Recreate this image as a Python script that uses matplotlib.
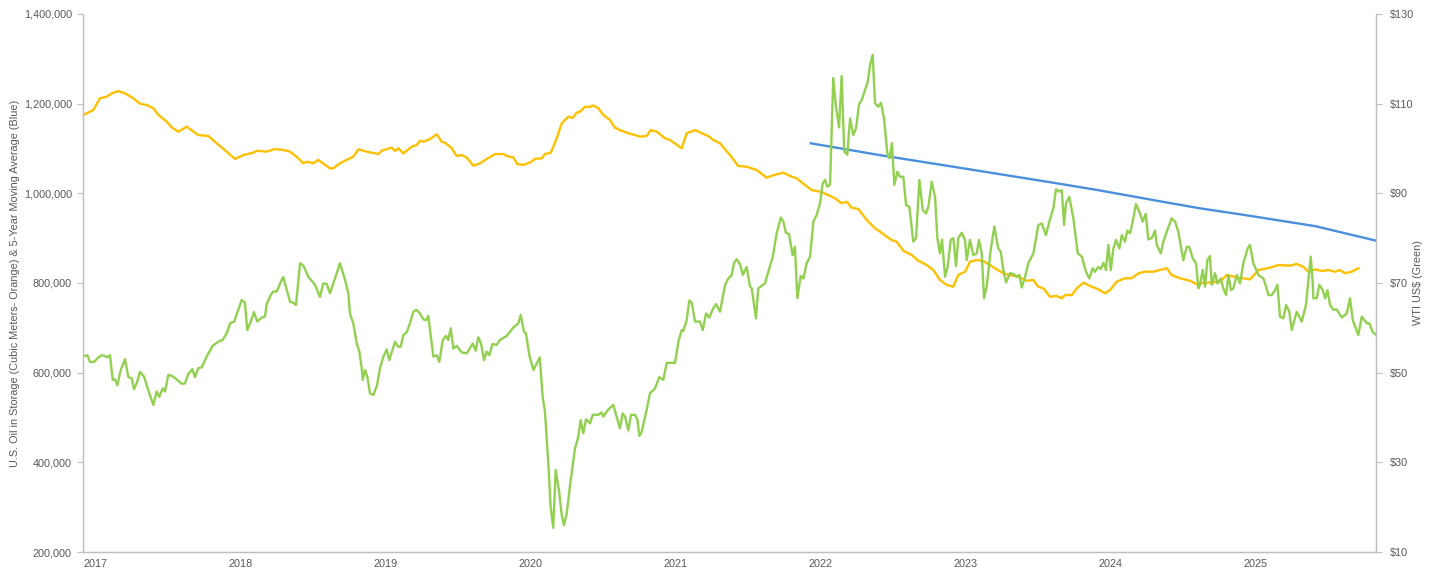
import numpy as np
import matplotlib
matplotlib.use("Agg")
import matplotlib.pyplot as plt
from matplotlib.ticker import FuncFormatter, MultipleLocator

# WTI weekly price, US$ (green, right axis); x = fractional year
wti_year = [
    2017.002, 2017.030, 2017.048, 2017.076, 2017.106, 2017.129, 2017.152, 2017.168, 2017.186, 2017.205,
    2017.221, 2017.237, 2017.260, 2017.290, 2017.312, 2017.336, 2017.352, 2017.374, 2017.393, 2017.421,
    2017.450, 2017.485, 2017.508, 2017.526, 2017.550, 2017.566, 2017.588, 2017.612, 2017.646, 2017.681,
    2017.703, 2017.726, 2017.754, 2017.772, 2017.795, 2017.819, 2017.853, 2017.894, 2017.933, 2017.963,
    2017.991,
    2018.014, 2018.043, 2018.071, 2018.094, 2018.117, 2018.133, 2018.157, 2018.179, 2018.202, 2018.232,
    2018.255, 2018.267, 2018.294, 2018.312, 2018.336, 2018.370, 2018.381, 2018.428, 2018.450, 2018.469,
    2018.497, 2018.519, 2018.554, 2018.600, 2018.634, 2018.657, 2018.681, 2018.703, 2018.750, 2018.772,
    2018.807, 2018.830, 2018.841, 2018.864, 2018.888, 2018.906, 2018.922, 2018.929, 2018.945, 2018.961,
    2018.979,
    2019.002, 2019.028, 2019.048, 2019.071, 2019.094, 2019.112, 2019.152, 2019.174, 2019.191, 2019.209,
    2019.232, 2019.255, 2019.278, 2019.301, 2019.324, 2019.347, 2019.366, 2019.381, 2019.416, 2019.439,
    2019.457, 2019.481, 2019.503, 2019.519, 2019.536, 2019.554, 2019.577, 2019.612, 2019.646, 2019.688,
    2019.708, 2019.726, 2019.745, 2019.766, 2019.784, 2019.802, 2019.824, 2019.853, 2019.876, 2019.922,
    2019.968,
    2020.002, 2020.019, 2020.041, 2020.055, 2020.078, 2020.106, 2020.150, 2020.170, 2020.186, 2020.209,
    2020.225, 2020.243, 2020.260, 2020.285, 2020.301, 2020.317, 2020.336, 2020.359, 2020.393, 2020.416,
    2020.432, 2020.450, 2020.469, 2020.497, 2020.515, 2020.554, 2020.577, 2020.588, 2020.623, 2020.657,
    2020.680, 2020.703, 2020.722, 2020.738, 2020.761, 2020.779, 2020.807, 2020.823, 2020.837, 2020.853,
    2020.887, 2020.910, 2020.945, 2020.974,
    2021.002, 2021.026, 2021.083, 2021.106, 2021.129, 2021.140, 2021.163, 2021.181, 2021.198, 2021.221,
    2021.255, 2021.274, 2021.297, 2021.319, 2021.347, 2021.366, 2021.393, 2021.428, 2021.450, 2021.474,
    2021.490, 2021.508, 2021.531, 2021.550, 2021.577, 2021.600, 2021.612, 2021.641, 2021.657, 2021.703,
    2021.726, 2021.757, 2021.784, 2021.812, 2021.830, 2021.848, 2021.869, 2021.894, 2021.910, 2021.926,
    2021.950, 2021.968, 2021.991,
    2022.014, 2022.037, 2022.060, 2022.083, 2022.101, 2022.117, 2022.133, 2022.152, 2022.174, 2022.193,
    2022.214, 2022.232, 2022.250, 2022.271, 2022.290, 2022.312, 2022.331, 2022.352, 2022.370, 2022.393,
    2022.412, 2022.428, 2022.446, 2022.462, 2022.485, 2022.503, 2022.524, 2022.547, 2022.561, 2022.579,
    2022.595, 2022.616, 2022.634, 2022.657, 2022.676, 2022.699, 2022.726, 2022.745, 2022.768, 2022.791,
    2022.814, 2022.830, 2022.853, 2022.876, 2022.892, 2022.910, 2022.924, 2022.945, 2022.963, 2022.984,
    2023.002, 2023.021, 2023.036, 2023.060, 2023.083, 2023.094, 2023.117, 2023.140, 2023.163, 2023.179,
    2023.198, 2023.214, 2023.232, 2023.260, 2023.285, 2023.312, 2023.329, 2023.347, 2023.366, 2023.393,
    2023.416, 2023.439, 2023.457, 2023.474, 2023.497, 2023.519, 2023.554, 2023.588, 2023.612, 2023.641,
    2023.664, 2023.692, 2023.710, 2023.733, 2023.750, 2023.766, 2023.779, 2023.802, 2023.830, 2023.860,
    2023.888, 2023.917, 2023.940, 2023.963, 2023.979,
    2024.002, 2024.019, 2024.037, 2024.055, 2024.071, 2024.088, 2024.106, 2024.124, 2024.147, 2024.164,
    2024.186, 2024.202, 2024.221, 2024.239, 2024.262, 2024.285, 2024.308, 2024.329, 2024.347, 2024.370,
    2024.393, 2024.405, 2024.433, 2024.450, 2024.478, 2024.508, 2024.531, 2024.554, 2024.588, 2024.612,
    2024.630, 2024.653, 2024.676, 2024.692, 2024.703, 2024.722, 2024.738, 2024.754, 2024.772, 2024.784,
    2024.807, 2024.823, 2024.846, 2024.864, 2024.883, 2024.899, 2024.917, 2024.933, 2024.957, 2024.979,
    2025.002, 2025.032, 2025.048, 2025.071, 2025.106, 2025.140, 2025.152, 2025.176, 2025.198, 2025.221,
    2025.237, 2025.255, 2025.278, 2025.297, 2025.319, 2025.336, 2025.370, 2025.405, 2025.434, 2025.450,
    2025.467, 2025.481, 2025.485, 2025.508, 2025.526, 2025.550, 2025.566, 2025.582, 2025.600, 2025.623,
    2025.646, 2025.681, 2025.715, 2025.738, 2025.757, 2025.795, 2025.819, 2025.853, 2025.871, 2025.894,
    2025.917,
]
wti_price = [
    53.7, 53.9, 52.4, 52.4, 53.4, 53.9, 53.7, 53.4, 53.9, 48.4,
    48.5, 47.2, 50.6, 53.0, 49.1, 48.7, 46.3, 48.0, 50.2, 49.1,
    46.1, 42.8, 45.8, 44.6, 46.5, 45.8, 49.5, 49.3, 48.5, 47.5,
    47.6, 49.7, 50.8, 49.0, 51.0, 51.2, 53.6, 56.0, 56.9, 57.3,
    58.8,
    61.0, 61.4, 64.0, 66.2, 65.6, 59.5, 61.4, 63.5, 61.4, 62.3,
    62.5, 65.3, 67.3, 68.1, 68.1, 70.7, 71.3, 65.8, 65.6, 65.1,
    74.4, 73.9, 71.4, 69.6, 66.9, 69.9, 69.8, 67.7, 72.2, 74.4,
    70.7, 67.7, 63.2, 61.0, 56.5, 54.7, 51.0, 48.4, 50.6, 49.1,
    45.4,
    45.0, 47.2, 51.0, 53.5, 55.2, 52.8, 56.9, 55.8, 55.8, 58.4,
    59.0, 61.0, 63.6, 64.0, 63.2, 61.9, 61.7, 62.7, 53.6, 53.9,
    52.4, 57.3, 58.2, 57.3, 59.9, 55.4, 56.0, 54.5, 54.3, 56.5,
    54.9, 57.9, 56.5, 52.8, 54.7, 53.9, 56.4, 56.2, 57.3, 58.2,
    60.1,
    61.0, 62.9, 59.1, 58.8, 53.9, 50.6, 53.4, 44.6, 41.3, 29.8,
    20.1, 15.4, 28.3, 23.1, 18.3, 16.0, 18.6, 24.9, 33.1, 35.7,
    39.4, 36.5, 39.6, 38.7, 40.6, 40.6, 41.1, 40.2, 41.8, 42.8,
    40.2, 37.6, 40.9, 40.2, 37.1, 40.6, 40.6, 39.6, 35.9, 36.8,
    41.7, 45.4, 46.5, 49.0,
    48.4, 52.2, 52.2, 56.9, 59.5, 59.3, 61.7, 66.1, 65.6, 61.4,
    61.4, 59.5, 63.2, 62.3, 64.4, 65.3, 63.6, 69.6, 71.0, 71.8,
    74.5, 75.3, 74.2, 71.8, 73.6, 69.2, 68.8, 62.1, 68.8, 69.9,
    72.5, 75.9, 81.1, 84.6, 83.7, 81.2, 80.9, 76.2, 78.1, 66.6,
    71.6, 71.0, 74.4,
    75.9, 83.7, 85.2, 87.8, 92.2, 93.0, 91.5, 91.9, 115.7, 109.3,
    104.7, 116.2, 99.3, 98.6, 106.7, 103.0, 104.5, 109.9, 110.8, 113.0,
    114.9, 118.6, 120.9, 110.1, 109.3, 110.2, 106.7, 98.9, 97.8, 101.2,
    91.9, 94.8, 93.7, 93.7, 87.4, 87.0, 79.2, 80.0, 93.0, 86.3,
    85.5, 87.0, 92.6, 89.2, 80.0, 76.6, 79.7, 71.4, 73.6, 79.6,
    80.0, 73.8, 80.0, 81.2, 79.6, 75.1, 79.6, 76.2, 76.6, 79.6,
    76.6, 66.6, 69.2, 77.4, 82.6, 77.7, 77.0, 72.9, 70.1, 72.2,
    72.0, 71.4, 71.8, 69.0, 71.4, 74.4, 76.6, 82.9, 83.3, 80.7,
    83.7, 86.7, 90.9, 90.4, 90.7, 82.9, 87.8, 89.2, 84.4, 76.6,
    75.9, 72.5, 71.0, 73.3, 72.5,
    73.6, 73.1, 74.5, 72.9, 78.5, 72.9, 77.7, 79.6, 77.7, 80.7,
    79.2, 81.7, 81.1, 83.7, 87.6, 85.9, 83.7, 85.4, 79.7, 80.0,
    81.7, 78.5, 76.6, 79.2, 81.8, 84.4, 83.7, 81.4, 75.1, 78.1,
    78.0, 75.5, 74.4, 68.8, 69.6, 72.9, 69.2, 75.1, 76.0, 69.6,
    72.2, 69.9, 71.0, 68.8, 67.3, 71.8, 68.4, 68.8, 71.8, 69.9,
    74.4, 77.7, 78.5, 74.4, 71.8, 71.0, 69.9, 67.3, 67.3, 68.4,
    69.6, 62.5, 62.1, 65.1, 63.6, 59.5, 63.6, 61.4, 65.1, 70.3,
    75.9, 69.9, 66.6, 66.6, 69.6, 68.4, 66.6, 68.4, 65.1, 64.0,
    64.1, 62.3, 63.2, 66.6, 61.7, 58.4, 62.5, 61.0, 61.0, 59.1,
    58.4,
]

# U.S. oil in storage, thousand cubic meters (orange, left axis)
stor_year = [
    2017.002, 2017.071, 2017.117, 2017.163, 2017.198, 2017.243, 2017.290, 2017.347, 2017.393, 2017.439,
    2017.485, 2017.519, 2017.577, 2017.612, 2017.657, 2017.715, 2017.795, 2017.864, 2017.922, 2017.991,
    2018.048, 2018.106, 2018.174, 2018.198, 2018.267, 2018.324, 2018.381, 2018.428, 2018.485, 2018.519,
    2018.543, 2018.588, 2018.623, 2018.703, 2018.726, 2018.772, 2018.864, 2018.899, 2018.957,
    2019.037, 2019.060, 2019.129, 2019.152, 2019.174, 2019.209, 2019.267, 2019.301, 2019.324, 2019.347,
    2019.393, 2019.439, 2019.474, 2019.497, 2019.543, 2019.577, 2019.612, 2019.646, 2019.692, 2019.738,
    2019.784, 2019.841, 2019.899, 2019.922, 2019.968, 2019.995,
    2020.037, 2020.094, 2020.117, 2020.163, 2020.186, 2020.226, 2020.267, 2020.301, 2020.347, 2020.377,
    2020.405, 2020.428, 2020.462, 2020.497, 2020.519, 2020.554, 2020.588, 2020.634, 2020.669, 2020.703,
    2020.761, 2020.807, 2020.841, 2020.888, 2020.915, 2020.957,
    2021.014, 2021.048, 2021.071, 2021.129, 2021.163, 2021.221, 2021.267, 2021.312, 2021.347, 2021.393,
    2021.462, 2021.519, 2021.577, 2021.646, 2021.715, 2021.772, 2021.830, 2021.888, 2021.922, 2021.979,
    2022.025, 2022.083, 2022.129, 2022.186, 2022.232, 2022.267, 2022.301, 2022.347, 2022.405, 2022.462,
    2022.497, 2022.543, 2022.577, 2022.612, 2022.657, 2022.715, 2022.761, 2022.819, 2022.864, 2022.910,
    2022.957,
    2023.002, 2023.036, 2023.083, 2023.117, 2023.163, 2023.209, 2023.255, 2023.301, 2023.347, 2023.393,
    2023.450, 2023.508, 2023.554, 2023.588, 2023.623, 2023.669, 2023.715, 2023.750, 2023.772, 2023.819,
    2023.853, 2023.899, 2023.957,
    2024.002, 2024.048, 2024.083, 2024.129, 2024.186, 2024.232, 2024.278, 2024.324, 2024.381, 2024.428,
    2024.474, 2024.508, 2024.566, 2024.634, 2024.692, 2024.703, 2024.770, 2024.841, 2024.887, 2024.957,
    2025.048, 2025.106, 2025.186, 2025.243, 2025.324, 2025.370, 2025.415, 2025.450, 2025.497, 2025.543,
    2025.588, 2025.634, 2025.669, 2025.703, 2025.750, 2025.795,
]
stor_k = [
    1174.7, 1185.9, 1212.0, 1215.5, 1223.0, 1228.0, 1223.0, 1212.0, 1200.0, 1197.0,
    1190.0, 1175.0, 1160.0, 1147.0, 1137.5, 1148.6, 1130.0, 1128.0, 1111.6, 1093.0,
    1076.6, 1085.5, 1090.6, 1095.0, 1093.0, 1099.0, 1096.7, 1093.0, 1078.0, 1067.0,
    1070.6, 1067.0, 1074.4, 1055.8, 1055.8, 1067.0, 1081.7, 1098.0, 1093.0,
    1087.7, 1095.0, 1102.0, 1094.4, 1100.4, 1089.0, 1104.0, 1107.8, 1117.4, 1115.0,
    1121.0, 1131.7, 1115.0, 1113.0, 1100.4, 1083.3, 1085.5, 1080.0, 1061.7, 1067.0,
    1076.6, 1087.7, 1087.7, 1083.3, 1080.0, 1065.4,
    1063.2, 1070.6, 1077.0, 1078.0, 1087.7, 1090.6, 1122.7, 1156.0, 1171.0, 1168.0,
    1180.0, 1182.0, 1193.0, 1193.0, 1196.0, 1189.7, 1175.0, 1163.6, 1146.4, 1141.0,
    1134.0, 1130.0, 1126.4, 1128.0, 1141.0, 1137.5,
    1122.7, 1119.0, 1113.8, 1100.4, 1134.0, 1141.0, 1134.0, 1128.0, 1119.0, 1111.6,
    1085.5, 1061.0, 1059.4, 1052.0, 1035.0, 1041.6, 1046.0, 1037.0, 1033.5, 1018.6,
    1007.4, 1003.6, 997.8, 988.9, 977.8, 981.4, 968.0, 965.0, 940.5, 922.0,
    914.4, 903.3, 895.9, 892.1, 872.0, 862.5, 849.7, 840.0, 829.0, 806.7,
    795.6,
    791.7, 817.8, 825.2, 847.5, 851.3, 849.0, 840.0, 830.5, 821.6, 817.8,
    814.0, 805.0, 806.7, 791.7, 788.0, 769.4, 771.0, 766.0, 773.2, 773.2,
    788.0, 800.7, 791.7,
    786.0, 777.0, 784.4, 803.0, 810.5, 810.5, 821.6, 825.2, 825.2, 829.0,
    832.8, 817.8, 810.5, 805.0, 795.6, 799.4, 801.0, 803.0, 817.8, 812.7,
    808.0, 829.0, 834.0, 840.0, 838.6, 842.4, 836.4, 825.2, 830.5, 826.8,
    829.0, 825.2, 829.0, 821.6, 825.2, 832.8,
]

# 5-year moving average of storage, thousand cubic meters (blue, left axis)
avg_year = [2022.019, 2022.5, 2023.0, 2023.5, 2023.715, 2024.0, 2024.5, 2024.703, 2025.0, 2025.5, 2025.917]
avg_k = [1111.6, 1085.0, 1059.4, 1033.6, 1022.4, 1007.1, 978.1, 966.6, 952.2, 926.7, 894.4]

years = list(range(2017, 2026))
price_ticks = [10, 30, 50, 70, 90, 110, 130]

GREEN, ORANGE, BLUE = "#92d050", "#ffc000", "#4a8fdc"
TXT, AXC = "#595959", "#bfbfbf"

plt.rcParams.update({
    "font.family": ["Liberation Sans", "DejaVu Sans"],
    "font.size": 7.8,
})

fig = plt.figure(figsize=(14.41, 5.74), dpi=100)
ax = fig.add_axes([83 / 1441, 1 - 552 / 574, 1293 / 1441, 538 / 574])
ax2 = ax.twinx()

ax.plot(stor_year, np.array(stor_k) * 1000, color=ORANGE, lw=1.7, solid_joinstyle="round")
ax.plot(avg_year, np.array(avg_k) * 1000, color=BLUE, lw=1.7)
ax2.plot(wti_year, wti_price, color=GREEN, lw=1.7, solid_joinstyle="round")

ax.set_xlim(2017.0, 2025.917)
ax.set_ylim(200000, 1400000)
ax2.set_ylim(10, 130)
ax.yaxis.set_major_locator(MultipleLocator(200000))
ax2.set_yticks(price_ticks)
ax.yaxis.set_major_formatter(FuncFormatter(lambda v, p: f"{v:,.0f}"))
ax2.yaxis.set_major_formatter(FuncFormatter(lambda v, p: f"${v:.0f}"))

ax.set_xticks(years)
ax.set_xticklabels([str(y) for y in years], ha="left")
ax.tick_params(axis="x", length=0, pad=5, labelcolor=TXT)
ax.tick_params(axis="y", length=4, width=0.8, color=AXC, pad=4, labelcolor=TXT)
ax2.tick_params(axis="y", length=4, width=0.8, color=AXC, pad=6, labelcolor=TXT)

for a in (ax, ax2):
    a.spines["top"].set_visible(False)
    for s in ("left", "right", "bottom"):
        a.spines[s].set_color(AXC)
        a.spines[s].set_linewidth(0.9)

ax.set_ylabel("U.S. Oil in Storage (Cubic Meters- Orange) & 5-Year Moving Average (Blue)", color=TXT)
ax2.set_ylabel("WTI US$ (Green)", color=TXT)
ax.yaxis.set_label_coords(-0.0487, 0.5)
ax2.yaxis.set_label_coords(1.0285, 0.5)

fig.savefig("out.png", dpi=100, facecolor="white")
